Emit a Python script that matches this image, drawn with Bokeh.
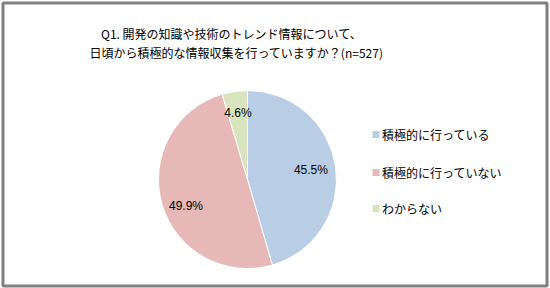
import numpy as np
from bokeh.plotting import figure
from bokeh.models import ColumnDataSource
from bokeh.core.properties import value
from bokeh.embed import file_html
from bokeh.resources import INLINE

title_lines = ["Q1. 開発の知識や技術のトレンド情報について、",
               "日頃から積極的な情報収集を行っていますか？(n=527)"]
categories = ["積極的に行っている", "積極的に行っていない", "わからない"]
shares = [45.5, 49.9, 4.6]
colors = ["#B9CDE5", "#E6B9B8", "#D7E4BD"]

W, H = 550, 288
FONT = "Noto Sans CJK JP"

p = figure(width=W, height=H, x_range=(0, W), y_range=(0, H),
           output_backend="svg", toolbar_location=None, min_border=0)
p.axis.visible = False
p.grid.visible = False
p.outline_line_color = None
p.background_fill_color = "white"
p.border_fill_color = "white"

def Y(py):
    return H - py

# frame
p.quad(left=[2.5], right=[546.5], bottom=[Y(285.5)], top=[Y(2.5)],
       fill_color=None, line_color="#808080", line_width=3)

# title
p.text(x=[231, 236], y=[Y(33), Y(52)], text=title_lines,
       text_font=value(FONT), text_font_size="12px", text_color="#000000",
       text_align="center", text_baseline="middle")

# pie
cx, cy, r = 247, Y(179), 89
frac = np.array(shares) / sum(shares)
cum = np.concatenate([[0], np.cumsum(frac)])
start = np.pi / 2 - 2 * np.pi * cum[:-1]
end = np.pi / 2 - 2 * np.pi * cum[1:]
src = ColumnDataSource(dict(start=start, end=end, color=colors))
p.wedge(x=cx, y=cy, radius=r, start_angle="start", end_angle="end",
        direction="clock", fill_color="color", line_color="white",
        line_width=1, source=src)

# slice labels
mid = (start + end) / 2
lr = np.array([0.72, 0.72, 0.75]) * r
lx = cx + lr * np.cos(mid)
ly = cy + lr * np.sin(mid)
labels = [f"{v:.1f}%" for v in shares]
lab_src = ColumnDataSource(dict(x=lx, y=ly, text=labels, dy=[0, 8, 0]))
p.text(x="x", y="y", text="text", y_offset="dy", source=lab_src,
       text_font=value("Liberation Sans"),
       text_font_size="12px", text_color="#000000",
       text_align="center", text_baseline="middle")

# legend
ly_leg = [Y(134), Y(172), Y(208)]
p.rect(x=[375.5] * 3, y=ly_leg, width=7, height=7, fill_color=colors,
       line_color=None)
p.text(x=[381.5] * 3, y=ly_leg, text=categories, text_font=value(FONT),
       text_font_size="12px", text_color="#000000",
       text_align="left", text_baseline="middle")

open("out.html", "w").write(file_html(p, INLINE))
